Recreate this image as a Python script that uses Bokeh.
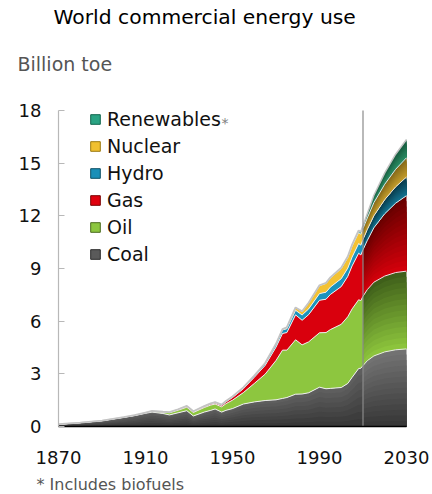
import numpy as np
from bokeh.plotting import figure
from bokeh.models import Range1d, FixedTicker, Label, Legend, LegendItem
from bokeh.embed import file_html
from bokeh.resources import INLINE

# ---------------- data (billion toe) ----------------
hist_years = [1870, 1880, 1890, 1900, 1905, 1910, 1913, 1918, 1921, 1925, 1929, 1932,
              1937, 1940, 1942, 1945, 1947, 1950, 1955, 1960, 1965, 1970, 1973, 1975,
              1979, 1982, 1985, 1990, 1993, 1995, 2000, 2003, 2005, 2008, 2009, 2010]
coal_hist = [0.13, 0.22, 0.33, 0.52, 0.62, 0.75, 0.82, 0.74, 0.66, 0.78, 0.90, 0.60,
             0.82, 0.92, 1.00, 0.82, 0.92, 1.02, 1.28, 1.40, 1.48, 1.52, 1.60, 1.65,
             1.84, 1.85, 1.92, 2.24, 2.15, 2.17, 2.22, 2.45, 2.80, 3.30, 3.32, 3.47]
oil_hist = [0.0, 0.0, 0.005, 0.01, 0.015, 0.025, 0.04, 0.07, 0.12, 0.15, 0.20, 0.20,
            0.26, 0.30, 0.28, 0.30, 0.38, 0.48, 0.65, 1.05, 1.50, 2.24, 2.75, 2.70,
            3.10, 2.80, 2.90, 3.10, 3.20, 3.35, 3.60, 3.80, 3.90, 3.92, 3.85, 3.95]
gas_hist = [0.0, 0.0, 0.0, 0.0, 0.0, 0.01, 0.012, 0.015, 0.02, 0.03, 0.045, 0.04,
            0.05, 0.06, 0.06, 0.08, 0.10, 0.15, 0.22, 0.35, 0.50, 0.76, 0.95, 1.00,
            1.42, 1.40, 1.55, 1.85, 1.90, 2.00, 2.15, 2.30, 2.45, 2.65, 2.60, 2.65]
hydro_hist = [0.0, 0.0, 0.002, 0.005, 0.007, 0.01, 0.012, 0.015, 0.018, 0.022, 0.03, 0.03,
              0.035, 0.04, 0.045, 0.045, 0.05, 0.06, 0.08, 0.10, 0.13, 0.17, 0.20, 0.22,
              0.26, 0.30, 0.33, 0.38, 0.40, 0.42, 0.45, 0.47, 0.50, 0.55, 0.56, 0.58]
nuclear_hist = [0.0, 0.0, 0.0, 0.0, 0.0, 0.0, 0.0, 0.0, 0.0, 0.0, 0.0, 0.0,
                0.0, 0.0, 0.0, 0.0, 0.0, 0.0, 0.0, 0.0, 0.005, 0.02, 0.05, 0.08,
                0.15, 0.20, 0.33, 0.45, 0.50, 0.52, 0.58, 0.60, 0.63, 0.63, 0.62, 0.63]
renew_hist = [0.0, 0.0, 0.0, 0.0, 0.0, 0.0, 0.0, 0.0, 0.0, 0.0, 0.0, 0.0,
              0.0, 0.0, 0.0, 0.0, 0.0, 0.0, 0.0, 0.0, 0.0, 0.0, 0.0, 0.005,
              0.01, 0.015, 0.02, 0.025, 0.03, 0.035, 0.045, 0.06, 0.08, 0.12, 0.13, 0.15]

fc_years = [2010, 2012, 2015, 2020, 2025, 2030]
coal_fc = [3.47, 3.75, 4.02, 4.25, 4.37, 4.42]
oil_fc = [3.95, 4.05, 4.20, 4.32, 4.40, 4.43]
gas_fc = [2.65, 2.80, 3.10, 3.55, 3.95, 4.30]
hydro_fc = [0.58, 0.62, 0.68, 0.80, 0.93, 1.06]
nuclear_fc = [0.63, 0.66, 0.75, 0.88, 1.00, 1.10]
renew_fc = [0.15, 0.25, 0.42, 0.65, 0.86, 1.04]

series_names = ["Coal", "Oil", "Gas", "Hydro", "Nuclear", "Renewables"]
x_ticks = [1870, 1910, 1950, 1990, 2030]
y_ticks = [0, 3, 6, 9, 12, 15, 18]
forecast_start = 2010

# ---------------- layout (pixels) ----------------
W, H = 432, 494
PLOT_L, PLOT_R, PLOT_T, PLOT_B = 58, 406, 110, 426   # plotting box on canvas
FONT = "DejaVu Sans"

x0, x1 = x_ticks[0], x_ticks[-1]
y0, y1 = y_ticks[0], y_ticks[-1]
xs = (PLOT_R - PLOT_L) / (x1 - x0)
ys = (PLOT_B - PLOT_T) / (y1 - y0)
x_range = Range1d(x0 - PLOT_L / xs, x1 + (W - PLOT_R) / xs)
y_range = Range1d(y0 - (H - PLOT_B) / ys, y1 + PLOT_T / ys)

# ---------------- styles ----------------
hist_colors = ["#4e4e4e", "#8dc63f", "#d9000d", "#1a93bd", "#f3c233", "#22a07c"]
fc_top = ["#727272", "#3f5f1a", "#6a0000", "#0a3b4c", "#85681a", "#175a3e"]
fc_bot = ["#383838", "#8cc43c", "#d2000b", "#13728f", "#c29c2c", "#2a8c63"]
swatch_fill = ["#5a5a5a", "#8cc63f", "#e0000e", "#1a8fb8", "#f0c030", "#2aa383"]
swatch_line = ["#2a2a2a", "#4a6b1e", "#7a0000", "#0d4f66", "#9c7a10", "#11664e"]


def hex2rgb(h):
    h = h.lstrip("#")
    return np.array([int(h[i:i + 2], 16) for i in (0, 2, 4)], dtype=float)


def mix(c1, c2, t):
    c = hex2rgb(c1) * (1 - t) + hex2rgb(c2) * t
    return "#%02x%02x%02x" % tuple(int(round(v)) for v in c)


p = figure(width=W, height=H, output_backend="svg", toolbar_location=None,
           x_range=x_range, y_range=y_range, min_border=0)
p.title.text = ""
p.outline_line_color = None
p.grid.visible = False
p.background_fill_color = "white"
p.border_fill_color = "white"

# ---------------- historical stack ----------------
hist_layers = [coal_hist, oil_hist, gas_hist, hydro_hist, nuclear_hist, renew_hist]
cum = np.zeros(len(hist_years))
hist_bounds = []
for arr in hist_layers:
    lo = cum.copy()
    cum = cum + np.array(arr, dtype=float)
    hist_bounds.append((lo, cum.copy()))

for i, (lo, hi) in enumerate(hist_bounds):
    if i == 0:
        K = 8
        for k in range(K - 1, -1, -1):
            up = lo + (hi - lo) * (k + 1) / K
            p.varea(x=hist_years, y1=lo, y2=up,
                    fill_color=mix("#383838", "#5e5e5e", k / (K - 1)))
    else:
        p.varea(x=hist_years, y1=lo, y2=hi, fill_color=hist_colors[i])

# ---------------- forecast stack (shaded) ----------------
fc_layers = [coal_fc, oil_fc, gas_fc, hydro_fc, nuclear_fc, renew_fc]
cum = np.zeros(len(fc_years))
fc_bounds = []
for arr in fc_layers:
    lo = cum.copy()
    cum = cum + np.array(arr, dtype=float)
    fc_bounds.append((lo, cum.copy()))

K = 14
for i, (lo, hi) in enumerate(fc_bounds):
    for k in range(K - 1, -1, -1):
        up = lo + (hi - lo) * (k + 1) / K
        p.varea(x=fc_years, y1=lo, y2=up,
                fill_color=mix(fc_bot[i], fc_top[i], k / (K - 1)))

# ---------------- boundary lines ----------------
for i, (lo, hi) in enumerate(hist_bounds):
    if i < len(hist_bounds) - 1:
        p.line(hist_years, hi, line_color="#eeeeee", line_width=1)
p.line(hist_years, hist_bounds[-1][1], line_color="#c4c4c4", line_width=1.8)
for i, (lo, hi) in enumerate(fc_bounds):
    if i < len(fc_bounds) - 1:
        p.line(fc_years, hi, line_color="#e8e8e8", line_width=1)
p.line(fc_years, fc_bounds[-1][1], line_color="#c4c4c4", line_width=1.5)

# vertical divider between history and outlook
p.segment(x0=[forecast_start], y0=[y0], x1=[forecast_start], y1=[y1],
          line_color="#8a8a8a", line_width=1.2)

# ---------------- axes ----------------
p.xaxis.fixed_location = y0
p.yaxis.fixed_location = x0
p.xaxis.bounds = (x0, x1)
p.yaxis.bounds = (y0, y1)
p.xaxis.ticker = FixedTicker(ticks=x_ticks)
p.yaxis.ticker = FixedTicker(ticks=y_ticks)
p.xaxis.axis_line_color = "black"
p.xaxis.axis_line_width = 1.6
p.xaxis.major_tick_line_color = None
p.xaxis.minor_tick_line_color = None
p.xaxis.major_label_standoff = 18
p.yaxis.axis_line_color = "#b8b8b8"
p.yaxis.axis_line_width = 1.2
p.yaxis.major_tick_line_color = "#b8b8b8"
p.yaxis.major_tick_in = 6
p.yaxis.major_tick_out = 0
p.yaxis.minor_tick_line_color = None
p.yaxis.major_label_standoff = 17
for ax in (p.xaxis, p.yaxis):
    ax.major_label_text_font = FONT
    ax.major_label_text_font_size = "18px"
    ax.major_label_text_color = "#111111"

# ---------------- legend ----------------
nan = float("nan")
items = []
for i in range(len(series_names) - 1, -1, -1):
    r = p.quad(left=[nan], right=[nan], top=[nan], bottom=[nan],
               fill_color=swatch_fill[i], line_color=swatch_line[i], line_width=1)
    items.append(LegendItem(label=series_names[i], renderers=[r]))
legend = Legend(items=items, location=(89, 229), padding=0, spacing=5,
                glyph_width=12, glyph_height=12, label_height=20, label_standoff=6,
                border_line_color=None, background_fill_alpha=0,
                label_text_font=FONT, label_text_font_size="19px",
                label_text_color="#111111")
p.add_layout(legend)

# ---------------- texts (screen units from bottom-left of canvas) ----------------
p.add_layout(Label(x=53, y=H - 16, x_units="screen", y_units="screen",
                   text="World commercial energy use", text_font=FONT,
                   text_font_size="20.3px", text_color="#000000",
                   text_baseline="alphabetic"))
p.add_layout(Label(x=17, y=H - 63, x_units="screen", y_units="screen",
                   text="Billion toe", text_font=FONT, text_font_size="19px",
                   text_color="#555555", text_baseline="alphabetic"))
p.add_layout(Label(x=221, y=H - 122, x_units="screen", y_units="screen",
                   text="*", text_font=FONT, text_font_size="14px",
                   text_color="#808080", text_baseline="alphabetic"))
p.add_layout(Label(x=36, y=H - 484, x_units="screen", y_units="screen",
                   text="* Includes biofuels", text_font=FONT,
                   text_font_size="16px", text_color="#555555",
                   text_baseline="alphabetic"))

open("out.html", "w").write(file_html(p, INLINE))
